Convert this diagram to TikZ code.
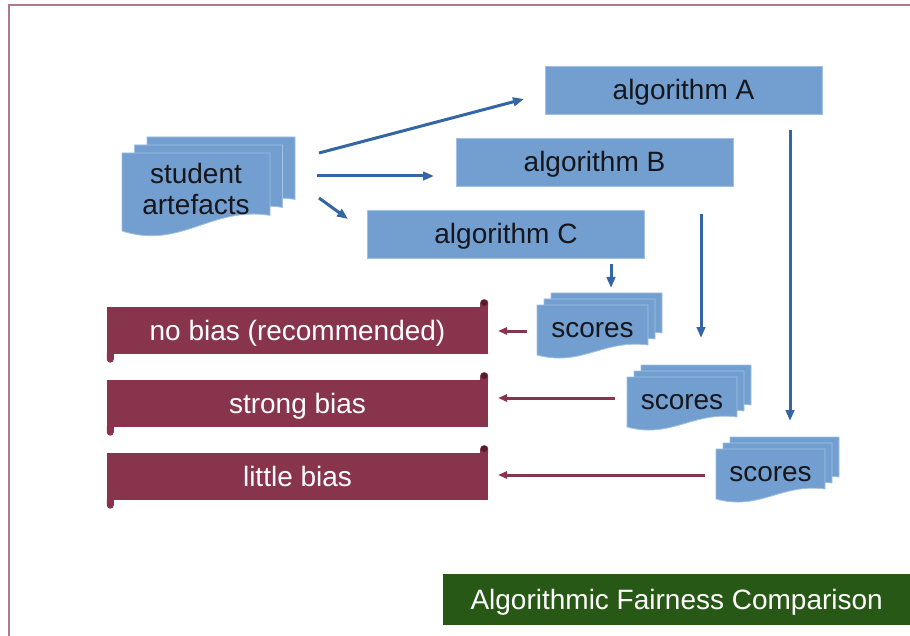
\documentclass[tikz,border=0pt]{standalone}
\usepackage{fontspec}
\setmainfont{Liberation Sans}
\usetikzlibrary{arrows.meta,calc}
\definecolor{docblue}{RGB}{114,159,207}
\definecolor{docedge}{RGB}{160,192,228}
\definecolor{arrblue}{RGB}{52,101,164}
\definecolor{maroonc}{RGB}{135,52,76}
\definecolor{maroondark}{RGB}{85,28,45}
\definecolor{titlegreen}{RGB}{40,88,22}
\definecolor{borderc}{RGB}{176,120,140}
\definecolor{textdark}{RGB}{22,22,28}
\tikzset{
  bigfont/.style={font=\fontsize{28}{31}\selectfont},
  onelinetext/.style={text height=23,text depth=3},
  docsheet/.style={fill=docblue,draw=docedge,line width=0.8},
  doctext/.style={bigfont,text=textdark,align=center,inner sep=0},
  algbox/.style={fill=docblue,draw=docedge,line width=0.8,bigfont,text=textdark,
    minimum width=277,minimum height=48,inner sep=0,onelinetext},
  bannerbox/.style={fill=maroonc,bigfont,text=white,minimum width=381,
    minimum height=47,inner sep=0,onelinetext},
  bluearrow/.style={draw=arrblue,line width=3,-{Triangle[length=11,width=8.5]}},
  maroonarrow/.style={draw=maroonc,line width=3,-{Triangle[length=9,width=7]}},
}
\newcommand{\docstack}[9]{%
  \foreach \k in {2,1,0}{
    \begin{scope}[shift={({#2+\k*#6},{#3-\k*#7})}]
      \filldraw[docsheet] (0,0) -- (#4,0) -- (#4,{0.8*#5})
        .. controls ({0.6*#4},{0.68*#5}) and ({0.4*#4},{1.24*#5}) .. (0,#5) -- cycle;
    \end{scope}
  }
  \node[doctext] (#1) at ({#2+#4/2},{#3+#9*#5}) {#8};
}
\newcommand{\bannertabs}[1]{%
  \fill[maroonc,rounded corners=3.5] ($(#1.north east)+(-8,4)$) rectangle ($(#1.north east)+(0,-7)$);
  \fill[maroondark] ($(#1.north east)+(-4,-3.5)$) circle (3.2);
  \fill[maroonc,rounded corners=3.5] ($(#1.south west)+(0,-4)$) rectangle ($(#1.south west)+(7,9)$);
}
\begin{document}
\begin{tikzpicture}[x=1pt,y=-1pt]
\useasboundingbox (0,0) rectangle (910,636);
\fill[white] (0,0) rectangle (910,636);
% frame
\draw[borderc,line width=2] (9,640) -- (9,5) -- (915,5);

% algorithm boxes
\node[algbox] (algA) at (683.5,90) {algorithm A};
\node[algbox] (algB) at (594.5,162) {algorithm B};
\node[algbox] (algC) at (506,234) {algorithm C};

% document stacks
\docstack{stud}{122}{153}{148}{78}{12.5}{8}{student\\artefacts}{0.46}
\docstack{scA}{537}{305}{111}{50}{7}{6}{scores}{0.5}
\docstack{scB}{627}{377}{110}{50}{7}{6}{scores}{0.5}
\docstack{scC}{716}{449}{109}{50}{7}{6}{scores}{0.5}

% banners
\node[bannerbox] (nobias) at (297.5,330) {no bias (recommended)};
\node[bannerbox] (strong) at (297.5,403) {strong bias};
\node[bannerbox] (little) at (297.5,476) {little bias};
\bannertabs{nobias}
\bannertabs{strong}
\bannertabs{little}

% title
\node[fill=titlegreen,text=white,bigfont,onelinetext,minimum width=470,minimum height=51,inner sep=0,anchor=west]
  (title) at (443,599.5) {\hspace*{-3pt}Algorithmic Fairness Comparison};

% connector end points
\coordinate (sa) at (319,153); \coordinate (ea) at (524,99);
\coordinate (sb) at (317,176); \coordinate (eb) at (434,176);
\coordinate (sc) at (319,198); \coordinate (ec) at (348,219);
\coordinate (vc1) at (611,264); \coordinate (vc2) at (611,288);
\coordinate (vb1) at (701,214); \coordinate (vb2) at (701,338);
\coordinate (va1) at (790,130); \coordinate (va2) at (790,421);
\coordinate (m1s) at (527,331); \coordinate (m1e) at (498,331);
\coordinate (m2s) at (615,398); \coordinate (m2e) at (498,398);
\coordinate (m3s) at (705,475); \coordinate (m3e) at (498,475);

\draw[bluearrow] (sa) -- (ea);
\draw[bluearrow] (sb) -- (eb);
\draw[bluearrow] (sc) -- (ec);
\draw[bluearrow] (vc1) -- (vc2);
\draw[bluearrow] (vb1) -- (vb2);
\draw[bluearrow] (va1) -- (va2);
\draw[maroonarrow] (m1s) -- (m1e);
\draw[maroonarrow] (m2s) -- (m2e);
\draw[maroonarrow] (m3s) -- (m3e);
\end{tikzpicture}
\end{document}
